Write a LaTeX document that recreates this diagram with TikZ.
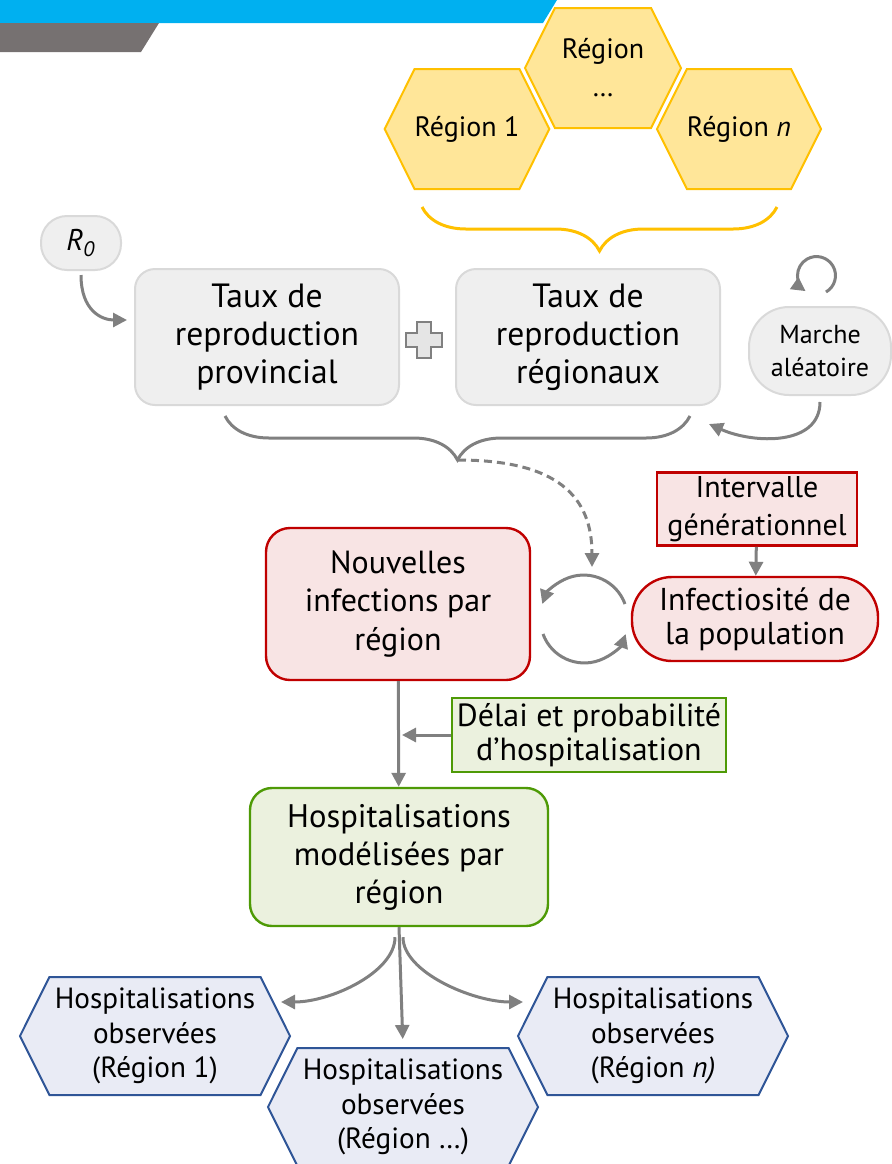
\documentclass[tikz,border=0pt]{standalone}
\usepackage{fontspec}
\setmainfont{PT Sans}
\usetikzlibrary{calc,shapes,shapes.symbols,arrows.meta,positioning,decorations.pathreplacing}
\definecolor{bleu}{HTML}{00B0F0}
\definecolor{grisfonce}{HTML}{767171}
\definecolor{jaunefond}{HTML}{FFE699}
\definecolor{jaunetrait}{HTML}{FFC000}
\definecolor{grisfond}{HTML}{EFEFEF}
\definecolor{gristrait}{HTML}{D9D9D9}
\definecolor{grisfleche}{HTML}{808080}
\definecolor{rougefond}{HTML}{F8E4E4}
\definecolor{rougetrait}{HTML}{C00000}
\definecolor{vertfond}{HTML}{EBF1DE}
\definecolor{verttrait}{HTML}{4E9A06}
\definecolor{bleufond}{HTML}{E9EBF5}
\definecolor{bleutrait}{HTML}{2F5597}
\tikzset{
    texte/.style={align=center,font=\fontsize{15}{19}\selectfont,inner sep=2pt},
    boite/.style={texte,rectangle,rounded corners=10pt,draw=gristrait,fill=grisfond,line width=1pt},
    boiterouge/.style={texte,rectangle,draw=rougetrait,fill=rougefond,line width=1.2pt},
    boiteverte/.style={texte,rectangle,draw=verttrait,fill=vertfond,line width=1.2pt},
    hexa/.style={signal,signal to=east and west,signal pointer angle=127,line width=1pt,align=center,inner sep=0pt,font=\fontsize{14}{17}\selectfont},
    hexjaune/.style={hexa,draw=jaunetrait,fill=jaunefond,minimum width=78pt,minimum height=60pt},
    hexbleu/.style={hexa,draw=bleutrait,fill=bleufond,minimum width=135pt,minimum height=59pt,font=\fontsize{14.6}{17.3}\selectfont},
    fleche/.style={draw=grisfleche,line width=1.5pt,-{Triangle[length=7pt,width=7pt]}},
    accolade/.style={draw,decorate,decoration={brace,mirror,amplitude=22pt},line width=1.5pt},
}
\begin{document}
\begin{tikzpicture}[x=0.5pt,y=-0.5pt]
    \useasboundingbox (0,0) rectangle (891,1164);
    \fill [bleu] (0,0) -- (557,0) -- (543,23) -- (0,23) -- cycle;
    \fill [grisfonce] (0,23) -- (159,23) -- (141,52) -- (0,52) -- cycle;

    \node [hexjaune] (reg1) at (467,129) {Région 1};
    \node [hexjaune] (regx) at (603,68) {Région\\[2pt]…};
    \node [hexjaune] (regn) at (739,129) {Région \textit{n}};

    \node [boite,rounded corners=13pt,minimum width=40pt,minimum height=27pt] (r0) at (81,243) {\textit{R}\textsubscript{\textit{0}}};
    \node [boite,minimum width=132pt,minimum height=68pt,font=\fontsize{16.8}{19}\selectfont] (prov) at (267,337) {Taux de\\reproduction\\provincial};
    \node [boite,minimum width=132pt,minimum height=68pt,font=\fontsize{16.8}{19}\selectfont,right=27.5pt of prov] (reg) {Taux de\\reproduction\\régionaux};
    \node [boite,rounded corners=20pt,minimum width=71pt,minimum height=44pt,font=\fontsize{13}{16.5}\selectfont] (marche) at (820,351) {Marche\\aléatoire};

    \node [boiterouge,rounded corners=12pt,minimum width=132pt,minimum height=76pt,font=\fontsize{16}{19.3}\selectfont] (nouv) at (398,604) {Nouvelles\\infections par\\région};
    \node [boiterouge,minimum width=100pt,minimum height=36pt] (interv) at (757,509) {Intervalle\\générationnel};
    \node [boiterouge,rounded corners=20pt,minimum width=123pt,minimum height=42pt,font=\fontsize{15.8}{17}\selectfont] (infect) at (755,619) {Infectiosité de\\la population};

    \node [boiteverte,minimum width=137pt,minimum height=37pt,font=\fontsize{16}{17}\selectfont] (delai) at (589,735) {Délai et probabilité\\d’hospitalisation};
    \node [boiteverte,rounded corners=11pt,minimum width=149pt,minimum height=69pt,font=\fontsize{16.3}{19}\selectfont] (hosp) at (399,857) {Hospitalisations\\modélisées par\\région};

    \node [hexbleu] (obs1) at (155,1036) {Hospitalisations\\observées\\(Région 1)};
    \node [hexbleu] (obsx) at (403,1107) {Hospitalisations\\observées\\(Région …)};
    \node [hexbleu] (obsn) at (653,1036) {Hospitalisations\\observées\\(Région \textit{n)}};

    \path [accolade,draw=jaunetrait] (422,207) -- (777,207);
    \path [accolade,draw=grisfleche] (225,416) -- (690,416);

    \coordinate (plus) at (424,340);
    \draw [fill=black!10,draw=grisfleche,line width=1.2pt] (plus) ++(-7,-18) -- ++(14,0) -- ++(0,11) -- ++(11,0) -- ++(0,14) -- ++(-11,0) -- ++(0,11) -- ++(-14,0) -- ++(0,-11) -- ++(-11,0) -- ++(0,-14) -- ++(11,0) -- cycle;

    \coordinate (r0fin) at (127,320);
    \coordinate (marchefin) at (709,424);
    \coordinate (boucle) at (826,292);
    \coordinate (somme) at (458,460);
    \coordinate (cycle) at (592,567);
    \coordinate (cychaut) at (625,604);
    \coordinate (cycbas) at (543,634);
    \coordinate (obs1fin) at (281,1002);
    \coordinate (obsnfin) at (523,1002);

    \path [fleche,shorten <=2pt] (r0.south) .. controls +(0,40) and +(-25,0) .. (r0fin);
    \path [fleche,shorten <=3pt] (marche.south) .. controls +(0,50) and +(45,20) .. (marchefin);
    \path [fleche] (boucle) arc [start angle=-60,end angle=235,radius=9.5pt];
    \path [fleche,dash pattern=on 4pt off 2.5pt] (somme) .. controls +(100,0) and +(0,-70) .. (cycle);
    \path [fleche] (cychaut) arc [start angle=20,end angle=160,radius=22pt];
    \path [fleche] (cycbas) arc [start angle=200,end angle=340,radius=22pt];
    \path [fleche] (interv) -- (infect);
    \path [fleche] (nouv) -- (hosp);
    \path [fleche,shorten >=2pt] (delai.west) -- (delai.west -| nouv.south);
    \path [fleche,shorten <=5pt] ([xshift=-2pt]hosp.south) .. controls +(0,45) and +(50,0) .. (obs1fin);
    \path [fleche,shorten <=5pt] ([xshift=2pt]hosp.south) .. controls +(0,45) and +(-50,0) .. (obsnfin);
    \path [fleche,shorten >=4pt] (hosp.south) -- (obsx.north);
\end{tikzpicture}
\end{document}
